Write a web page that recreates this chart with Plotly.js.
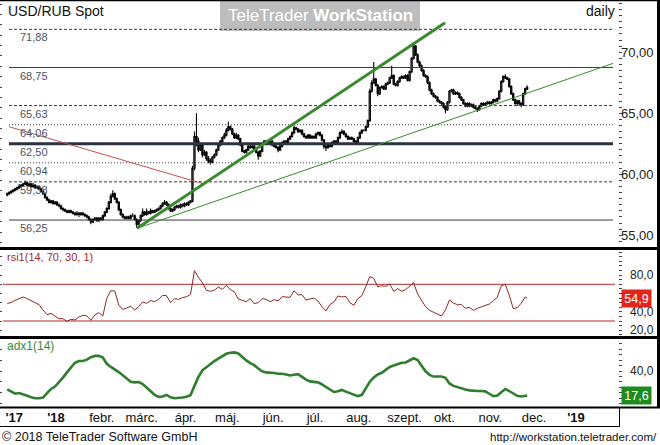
<!DOCTYPE html>
<html><head><meta charset="utf-8">
<script src="https://cdn.plot.ly/plotly-3.0.1.min.js"></script>
<style>html,body{margin:0;padding:0;background:#fff;}#chart{width:660px;height:445px;}</style>
</head><body><div id="chart"></div>
<script>
// ---------- DATA ----------
const startDate = '2017-11-27';   // first trading day shown
const open = [
58.3,58.4,58.5,58.6,58.7,58.8,58.9,59.0,59.1,59.2,
59.3,59.1,59.2,59.0,59.1,58.9,59.0,58.8,58.6,58.4,
58.1,57.9,57.7,57.8,57.6,57.7,57.5,57.4,57.2,57.1,
57.0,56.9,57.0,56.9,56.8,56.7,56.8,56.7,56.8,56.7,
56.6,56.5,56.3,56.1,56.3,56.4,56.2,56.4,56.3,56.6,
56.9,57.2,57.7,58.2,58.4,58.0,57.7,57.1,56.7,56.5,
56.4,56.5,56.4,56.6,56.6,56.3,55.9,56.2,56.6,56.9,
56.7,56.9,56.8,57.0,56.9,57.0,57.1,57.2,57.4,57.6,
57.7,57.5,57.2,57.0,57.1,57.3,57.4,57.3,57.5,57.4,
57.6,57.5,57.7,57.8,60.5,63.1,62.7,62.0,62.4,61.6,
61.8,61.3,61.1,61.0,61.4,61.6,62.0,62.4,62.7,63.0,
63.2,63.6,63.9,63.7,63.3,63.0,63.2,62.9,62.4,61.9,
61.8,62.0,62.3,62.2,62.3,62.1,61.8,61.5,61.9,62.5,
62.7,62.6,62.5,62.7,62.4,62.3,62.2,62.0,62.3,62.6,
62.7,62.6,62.9,63.1,63.4,63.8,63.7,63.5,63.6,63.3,
63.1,63.0,63.2,63.0,63.1,63.0,63.3,63.4,63.2,62.8,
62.3,62.2,62.4,62.3,62.6,62.7,62.6,63.0,63.4,63.5,
63.3,63.1,62.9,63.0,62.9,62.7,62.5,63.0,63.4,63.6,
63.6,63.9,64.4,66.8,67.5,67.8,67.3,66.6,67.1,67.2,
67.0,67.4,67.5,67.9,68.1,67.4,67.3,67.6,67.9,68.0,
67.9,68.1,67.7,68.4,69.5,70.5,69.8,69.2,68.9,68.5,
68.1,68.0,67.5,66.9,66.6,66.4,66.3,66.0,65.9,65.8,
65.5,65.3,65.9,66.8,66.9,66.6,66.7,66.6,66.3,66.1,
65.8,65.6,65.8,65.6,65.7,65.5,65.4,65.3,65.6,65.8,
65.7,65.8,65.9,65.8,65.9,66.1,66.0,66.2,66.8,67.6,
68.0,67.9,67.8,67.2,66.6,66.1,65.8,66.0,65.8,65.7,
66.6,67.0];
const high = [
58.5,58.6,58.7,58.8,58.9,59.0,59.2,59.2,59.3,59.5,
59.4,59.3,59.3,59.3,59.2,59.1,59.1,58.9,58.7,58.5,
58.2,58.0,57.9,57.9,57.8,57.8,57.6,57.5,57.3,57.2,
57.1,57.1,57.1,57.0,56.9,57.0,56.9,56.9,56.9,56.8,
56.7,56.6,56.4,56.4,56.5,56.5,56.5,56.5,56.7,57.0,
57.3,57.8,58.4,58.7,58.5,58.1,57.8,57.2,56.8,56.6,
56.6,56.6,56.7,56.8,56.7,56.4,56.3,56.7,57.2,57.0,
57.2,57.0,57.2,57.1,57.1,57.2,57.3,57.5,57.7,57.9,
57.8,57.6,57.3,57.2,57.4,57.5,57.5,57.6,57.6,57.7,
57.7,57.8,57.9,60.7,63.5,65.0,63.0,62.6,62.5,62.0,
61.9,61.5,61.3,61.5,61.7,62.1,62.5,62.8,63.1,63.4,
63.8,64.3,64.0,63.8,63.4,63.4,63.3,63.0,62.5,62.0,
62.1,62.4,62.4,62.4,62.4,62.2,61.9,62.0,62.6,62.8,
62.8,62.7,62.8,62.8,62.5,62.4,62.3,62.4,62.7,62.8,
62.8,63.0,63.2,63.5,64.0,63.9,63.8,63.7,63.7,63.4,
63.2,63.3,63.3,63.2,63.2,63.4,63.5,63.5,63.3,62.9,
62.4,62.5,62.5,62.7,62.8,62.8,63.1,63.5,63.7,63.6,
63.4,63.2,63.1,63.1,63.0,62.8,63.1,63.5,63.7,63.7,
64.0,64.5,67.0,67.7,69.2,67.9,67.4,67.2,67.3,67.3,
67.5,67.6,68.0,68.9,68.2,67.5,67.7,68.0,68.1,68.1,
68.2,68.2,68.5,69.6,70.8,70.6,69.9,69.3,69.0,68.6,
68.2,68.1,67.6,67.0,66.7,66.5,66.4,66.1,66.0,65.9,
65.6,66.0,66.9,67.0,67.0,66.8,66.8,66.7,66.4,66.2,
65.9,65.9,65.9,65.8,65.8,65.6,65.5,65.7,65.9,65.9,
65.9,66.0,66.0,66.0,66.2,66.2,66.3,66.9,67.7,68.1,
68.2,68.0,67.9,67.3,66.7,66.2,66.1,66.1,65.9,66.7,
67.1,67.3];
const low = [
58.2,58.3,58.4,58.5,58.6,58.7,58.8,58.9,59.0,59.1,
59.0,59.0,58.9,58.9,58.8,58.8,58.7,58.5,58.3,58.0,
57.8,57.6,57.6,57.5,57.5,57.4,57.3,57.1,57.0,56.9,
56.8,56.8,56.8,56.7,56.6,56.6,56.5,56.6,56.6,56.5,
56.4,56.2,55.9,56.0,56.2,56.1,56.1,56.2,56.2,56.5,
56.8,57.1,57.6,58.1,57.9,57.6,57.0,56.6,56.4,56.3,
56.3,56.3,56.3,56.5,56.2,55.6,55.8,56.1,56.5,56.6,
56.6,56.7,56.7,56.8,56.8,56.9,57.0,57.1,57.3,57.5,
57.4,57.1,56.9,56.9,57.0,57.2,57.2,57.2,57.3,57.3,
57.4,57.4,57.6,57.7,60.3,62.3,61.8,61.9,61.4,61.5,
61.1,60.9,60.8,60.9,61.3,61.5,61.9,62.3,62.6,62.9,
63.1,63.5,63.6,63.2,62.9,62.9,62.8,62.3,61.8,61.7,
61.7,61.9,62.1,62.1,62.0,61.7,61.2,61.4,61.8,62.4,
62.5,62.4,62.4,62.3,62.2,62.1,61.8,61.9,62.2,62.5,
62.5,62.5,62.8,63.0,63.3,63.6,63.4,63.4,63.2,63.0,
62.9,62.9,62.9,62.9,62.9,62.9,63.2,63.1,62.7,62.1,
61.9,62.1,62.2,62.2,62.5,62.5,62.5,62.9,63.3,63.2,
63.0,62.8,62.8,62.8,62.6,62.4,62.4,62.9,63.3,63.5,
63.5,63.8,64.3,66.7,67.4,67.2,66.4,66.5,67.0,66.9,
66.9,67.3,67.4,67.8,67.3,67.2,67.2,67.5,67.8,67.8,
67.8,67.6,67.6,68.3,69.4,69.7,69.1,68.8,68.4,68.0,
67.9,67.4,66.8,66.5,66.3,66.2,65.9,65.8,65.7,65.4,
65.0,65.2,65.8,66.7,66.5,66.5,66.5,66.2,66.0,65.7,
65.5,65.5,65.5,65.5,65.4,65.3,65.1,65.2,65.5,65.6,
65.6,65.7,65.7,65.7,65.8,65.9,65.9,66.1,66.7,67.5,
67.8,67.7,67.1,66.5,66.0,65.7,65.6,65.6,65.5,65.6,
66.5,66.9];
const close = [
58.4,58.5,58.6,58.7,58.8,58.9,59.0,59.1,59.2,59.3,
59.1,59.2,59.0,59.1,58.9,59.0,58.8,58.6,58.4,58.1,
57.9,57.7,57.8,57.6,57.7,57.5,57.4,57.2,57.1,57.0,
56.9,57.0,56.9,56.8,56.7,56.8,56.7,56.8,56.7,56.6,
56.5,56.3,56.1,56.3,56.4,56.2,56.4,56.3,56.6,56.9,
57.2,57.7,58.2,58.4,58.0,57.7,57.1,56.7,56.5,56.4,
56.5,56.4,56.6,56.6,56.3,55.9,56.2,56.6,56.9,56.7,
56.9,56.8,57.0,56.9,57.0,57.1,57.2,57.4,57.6,57.7,
57.5,57.2,57.0,57.1,57.3,57.4,57.3,57.5,57.4,57.6,
57.5,57.7,57.8,60.5,63.1,62.7,62.0,62.4,61.6,61.8,
61.3,61.1,61.0,61.4,61.6,62.0,62.4,62.7,63.0,63.2,
63.6,63.9,63.7,63.3,63.0,63.2,62.9,62.4,61.9,61.8,
62.0,62.3,62.2,62.3,62.1,61.8,61.5,61.9,62.5,62.7,
62.6,62.5,62.7,62.4,62.3,62.2,62.0,62.3,62.6,62.7,
62.6,62.9,63.1,63.4,63.8,63.7,63.5,63.6,63.3,63.1,
63.0,63.2,63.0,63.1,63.0,63.3,63.4,63.2,62.8,62.3,
62.2,62.4,62.3,62.6,62.7,62.6,63.0,63.4,63.5,63.3,
63.1,62.9,63.0,62.9,62.7,62.5,63.0,63.4,63.6,63.6,
63.9,64.4,66.8,67.5,67.8,67.3,66.6,67.1,67.2,67.0,
67.4,67.5,67.9,68.1,67.4,67.3,67.6,67.9,68.0,67.9,
68.1,67.7,68.4,69.5,70.5,69.8,69.2,68.9,68.5,68.1,
68.0,67.5,66.9,66.6,66.4,66.3,66.0,65.9,65.8,65.5,
65.3,65.9,66.8,66.9,66.6,66.7,66.6,66.3,66.1,65.8,
65.6,65.8,65.6,65.7,65.5,65.4,65.3,65.6,65.8,65.7,
65.8,65.9,65.8,65.9,66.1,66.0,66.2,66.8,67.6,68.0,
67.9,67.8,67.2,66.6,66.1,65.8,66.0,65.8,65.7,66.6,
67.0,67.1];
// indicator readings, taken every second trading day (plus the last day)
const rsi = [
49.3,50.0,52.5,54.7,56.2,54.4,52.2,50.4,47.8,42.0,
36.9,38.4,35.8,32.5,32.5,29.6,31.8,31.1,34.4,36.2,
35.5,30.7,36.5,39.1,35.5,54.7,63.1,62.7,47.5,42.7,
44.2,46.0,42.0,45.6,50.7,49.3,52.2,51.1,53.6,58.0,
57.6,50.0,54.4,53.6,55.5,56.5,58.7,84.9,77.6,71.8,
63.5,62.4,63.5,67.1,64.5,68.9,64.2,62.0,54.0,52.5,
51.1,54.4,48.9,50.0,54.4,53.6,51.1,53.3,51.8,56.5,
56.5,55.8,63.1,58.4,58.7,52.9,54.0,55.1,51.8,45.6,
40.9,47.8,50.7,57.3,56.2,56.9,50.0,47.1,54.4,57.6,
67.5,78.4,76.5,67.1,68.5,67.8,70.4,62.4,65.3,62.4,
64.2,68.2,71.8,59.5,51.8,45.6,41.6,39.5,37.6,35.5,
42.0,52.9,49.6,47.8,47.8,43.8,44.9,41.6,43.8,45.3,
46.7,48.5,52.2,55.8,68.2,70.0,58.4,43.5,44.5,49.3,
56.2,54.9];
const adx = [
23.3,21.1,19.2,19.8,18.9,17.3,16.0,15.1,15.1,15.7,
19.8,23.6,25.8,29.6,34.0,38.7,43.1,47.5,49.1,49.1,
50.4,52.6,53.8,53.8,52.2,46.6,43.7,41.5,39.0,36.2,
33.0,30.2,29.6,29.9,28.0,24.5,21.7,18.2,16.4,16.7,
18.2,16.0,15.1,15.1,15.7,16.4,17.9,26.4,34.6,40.6,
43.7,46.6,49.1,51.3,53.8,55.7,56.7,57.0,56.0,52.6,
49.7,47.2,45.3,42.2,39.7,38.7,38.7,38.1,37.5,37.5,
36.8,35.9,36.5,37.1,34.6,32.1,30.5,30.2,29.6,27.7,
25.2,22.7,20.8,21.4,22.7,21.1,19.5,18.2,17.0,18.2,
23.6,30.2,34.0,36.8,38.4,41.2,43.7,45.0,46.6,47.5,
47.8,49.4,51.6,50.0,45.0,39.7,36.5,34.9,34.9,34.9,
33.7,28.6,26.4,25.2,23.9,23.0,22.3,21.7,21.7,21.7,
21.4,19.2,17.0,17.6,20.8,23.6,21.7,19.2,17.3,16.7,
17.6,17.6];
const fibLevels = [56.25, 59.38, 60.94, 62.50, 64.06, 65.63, 68.75, 71.88];
const fibSpan = [0.9, 304.1];                 // trading-day positions where the drawing starts/ends
const trendUpperX = [65.2, 219.8], trendUpperY = [55.57, 72.42];
const trendLowerX = [65.2, 304.1], trendLowerY = [55.57, 69.09];
const trendRedX = [0.9, 98.3],     trendRedY = [63.9, 59.23];
const monthTickDates = ['2017-12-01','2018-01-01','2018-02-01','2018-03-01','2018-04-01','2018-05-01',
  '2018-06-01','2018-07-01','2018-08-01','2018-09-01','2018-10-01','2018-11-01','2018-12-01','2019-01-01'];
const monthTickText = ["<b>'17</b>","<b>'18</b>","febr.","márc.","ápr.","máj.","jún.","júl.","aug.",
  "szept.","okt.","nov.","dec.","<b>'19</b>"];
const priceTicks = [55, 60, 65, 70];
const rsiTicks = [20, 40, 60, 80];
const adxTicks = [20, 40];
const rsiBands = [70, 30];

// ---------- HELPERS ----------
function tradingDays(start, n){
  const out=[]; const d=new Date(start+'T00:00:00Z');
  while(out.length<n){ const w=d.getUTCDay(); if(w!==0&&w!==6) out.push(d.toISOString().slice(0,10)); d.setUTCDate(d.getUTCDate()+1); }
  return out;
}
const allDays = tradingDays(startDate, 330);
const dates = allDays.slice(0, close.length);
const idx = close.map((_, i) => i);
const indIdx = []; for (let i = 0; i < close.length; i += 2) indIdx.push(i);
if (indIdx[indIdx.length-1] !== close.length-1) indIdx.push(close.length-1);
const tickPos = monthTickDates.map(s => allDays.findIndex(d => d >= s) - 0.5);

const W = 660, H = 445;
const px = v => v / W, py = v => 1 - v / H;
const FONT = 'Liberation Sans, Arial, sans-serif';
const comma = (v, n) => v.toFixed(n).replace('.', ',');

// ---------- TRACES ----------
const fibStyle = {56.25:['solid',1], 59.38:['3px,2px',1], 60.94:['1px,2px',1], 62.50:['solid',3],
                  64.06:['1px,2px',1], 65.63:['3px,2px',1], 68.75:['solid',1], 71.88:['3px,2px',1]};
const traces = [];
fibLevels.forEach(lv => {
  const st = fibStyle[lv];
  traces.push({type:'scatter', mode:'lines', x:fibSpan, y:[lv, lv], xaxis:'x', yaxis:'y',
    line:{color: lv===62.50 ? '#2b3240' : '#3a3a3a', width: st[1], dash: st[0]}, hoverinfo:'skip'});
});
traces.push({type:'scatter', mode:'lines', x:trendRedX, y:trendRedY, xaxis:'x', yaxis:'y',
  line:{color:'#c0505a', width:1}, hoverinfo:'skip'});
traces.push({type:'candlestick', x:idx, open:open, high:high, low:low, close:close, text:dates,
  xaxis:'x', yaxis:'y', whiskerwidth:0,
  increasing:{line:{color:'#000', width:1.1}, fillcolor:'#fff'},
  decreasing:{line:{color:'#000', width:1.1}, fillcolor:'#000'}, hoverinfo:'skip'});
traces.push({type:'scatter', mode:'lines', x:trendLowerX, y:trendLowerY, xaxis:'x', yaxis:'y',
  line:{color:'#3a8a2e', width:1}, hoverinfo:'skip'});
traces.push({type:'scatter', mode:'lines', x:trendUpperX, y:trendUpperY, xaxis:'x', yaxis:'y',
  line:{color:'#3a8a2e', width:3}, hoverinfo:'skip'});
traces.push({type:'scatter', mode:'lines', x:indIdx, y:rsi, xaxis:'x', yaxis:'y2',
  line:{color:'#8c2828', width:1}, hoverinfo:'skip'});
traces.push({type:'scatter', mode:'lines', x:indIdx, y:adx, xaxis:'x', yaxis:'y3',
  line:{color:'#2f7d2f', width:2.6}, hoverinfo:'skip'});

// ---------- LAYOUT ----------
const xDom = [px(3), px(618)];
const yTickAx = (dom, range, side, dtick, extra) => Object.assign({domain:dom, range:range, side:side,
  anchor:'x', ticks:'outside', ticklen:3, tickwidth:1, tickcolor:'#444', dtick:dtick, tick0:0,
  showticklabels:false, showgrid:false, zeroline:false, showline:false, fixedrange:true}, extra||{});
const mainDom = [py(247), py(2)], rsiDom = [py(336), py(250)], adxDom = [py(406), py(339)];
const mainRange = [54.04, 74.12], rsiRange = [13.65, 107.4], adxRange = [8.0, 69.25];
const pxPerUnit = (dom, range) => (dom[1]-dom[0]) * H / (range[1]-range[0]);

const shapes = [];
const hline = (y, x0, x1, w, c) => shapes.push({type:'line', xref:'paper', yref:'paper',
  x0:px(x0), x1:px(x1), y0:py(y), y1:py(y), line:{color:c||'#000', width:w}, layer:'above'});
const vline = (x, y0, y1, w, c) => shapes.push({type:'line', xref:'paper', yref:'paper',
  x0:px(x), x1:px(x), y0:py(y0), y1:py(y1), line:{color:c||'#000', width:w}, layer:'above'});
rsiBands.forEach(b => shapes.push({type:'line', xref:'paper', yref:'y2', x0:px(3), x1:px(615),
  y0:b, y1:b, line:{color:'#b52a2a', width:1}, layer:'below'}));
// watermark box
shapes.push({type:'rect', xref:'paper', yref:'paper', x0:px(220), x1:px(420), y0:py(31), y1:py(1),
  fillcolor:'#bdbdbd', line:{width:0}, layer:'below'});
hline(0.5, 0, 660, 1.5);
hline(248.5, 0, 660, 3);
hline(337.5, 0, 660, 3);
hline(407.5, 0, 660, 2);
hline(426.5, 0, 620, 1);
vline(658.5, 0, 408, 3);
vline(619.5, 407, 427, 1);

const ann = [];
const txt = (text, x, y, size, color, xanchor, extra) => ann.push(Object.assign({text:text, xref:'paper', yref:'paper',
  x:px(x), y:py(y), xanchor:xanchor||'left', yanchor:'middle', showarrow:false,
  font:{family:FONT, size:size, color:color}}, extra||{}));
txt('USD/RUB Spot', 6, 11, 14, '#111');
txt('daily', 617, 11, 14, '#111', 'right');
txt('TeleTrader <b>WorkStation</b>', 320, 16, 17, '#ffffff', 'center');
txt('rsi1(14, 70, 30, 1)', 5, 257, 11, '#a02c2c');
txt('adx1(14)', 5, 346, 12, '#3a8a3a');
txt('© 2018 TeleTrader Software GmbH', 0, 437, 12.5, '#111');
txt('http://workstation.teletrader.com/', 659, 437, 11.5, '#111', 'right');
fibLevels.forEach(lv => ann.push({text:comma(lv,2), xref:'paper', yref:'y', x:px(18), y:lv, yshift:-8,
  xanchor:'left', yanchor:'middle', showarrow:false, font:{family:FONT, size:11, color:'#4c5566'}}));
const lastRsi = rsi[rsi.length-1], lastAdx = adx[adx.length-1];
// right-hand scale labels; a label that sits under the last-value badge is covered by it
const addScale = (ticks, yref, dec, size, lastVal, dom, range) => ticks.forEach(v => {
  if (lastVal !== null && Math.abs(v - lastVal) * pxPerUnit(dom, range) < 9) return;
  ann.push({text:comma(v,dec), xref:'paper', yref:yref, x:px(656), y:v,
    xanchor:'right', yanchor:'middle', showarrow:false, font:{family:FONT, size:size, color:'#222'}});
});
addScale(priceTicks, 'y', 2, 13, null, mainDom, mainRange);
addScale(rsiTicks, 'y2', 1, 12, lastRsi, rsiDom, rsiRange);
addScale(adxTicks, 'y3', 1, 12, lastAdx, adxDom, adxRange);
ann.push({text:comma(lastRsi,1), xref:'paper', yref:'y2', x:px(621), y:lastRsi, xanchor:'left', yanchor:'middle',
  showarrow:false, bgcolor:'#e3241d', width:27, height:15, borderpad:1, font:{family:FONT, size:12.5, color:'#fff'}});
ann.push({text:comma(lastAdx,1), xref:'paper', yref:'y3', x:px(621), y:lastAdx, xanchor:'left', yanchor:'middle',
  showarrow:false, bgcolor:'#1f8a1f', width:27, height:15, borderpad:1, font:{family:FONT, size:12.5, color:'#fff'}});

const layout = {
  width:W, height:H, margin:{l:0, r:0, t:0, b:0}, paper_bgcolor:'#fff', plot_bgcolor:'rgba(0,0,0,0)',
  showlegend:false, hovermode:false, dragmode:false, boxgap:0.1,
  xaxis:{domain:xDom, range:[-2.11, 306.6], anchor:'y3', showgrid:false, zeroline:false, showline:false,
    ticks:'', tickvals:tickPos, ticktext:monthTickText, tickfont:{family:FONT, size:13, color:'#111'},
    ticklabelstandoff:2, rangeslider:{visible:false}, fixedrange:true},
  yaxis: yTickAx(mainDom, mainRange, 'right', 0.5),
  yaxis2: yTickAx(rsiDom, rsiRange, 'right', 5),
  yaxis3: yTickAx(adxDom, adxRange, 'right', 5),
  yaxis4: yTickAx(mainDom, mainRange, 'left', 0.85, {overlaying:'y'}),
  yaxis5: yTickAx(rsiDom, rsiRange, 'left', 10, {overlaying:'y2'}),
  yaxis6: yTickAx(adxDom, adxRange, 'left', 10, {overlaying:'y3'}),
  shapes:shapes, annotations:ann
};
// empty traces so the left tick axes are drawn
traces.push({type:'scatter', x:[], y:[], yaxis:'y4', xaxis:'x'});
traces.push({type:'scatter', x:[], y:[], yaxis:'y5', xaxis:'x'});
traces.push({type:'scatter', x:[], y:[], yaxis:'y6', xaxis:'x'});

Plotly.newPlot('chart', traces, layout, {displayModeBar:false, staticPlot:true});
</script>
</body></html>
